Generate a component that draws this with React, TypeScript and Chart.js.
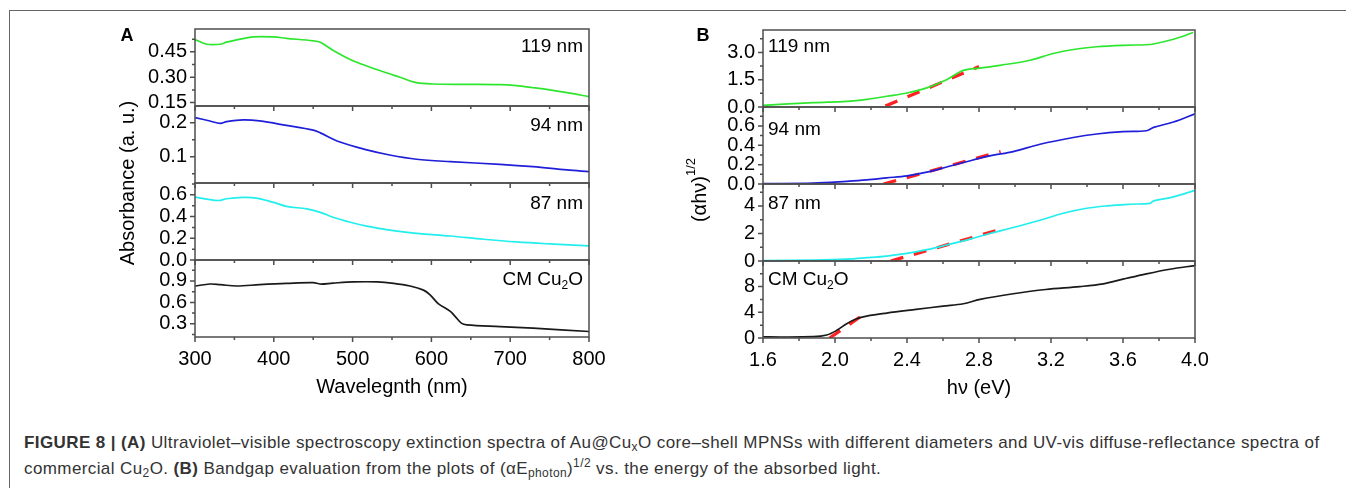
import React, { useEffect, useRef } from 'react';
import { Chart, registerables } from 'chart.js';

Chart.register(...registerables);

const FONT = '"Liberation Sans", Arial, Helvetica, sans-serif';

// ---------------- Panel A : absorbance vs wavelength ----------------
const A_X_TICKS = [300, 400, 500, 600, 700, 800];
const A_X_MINOR = [350, 450, 550, 650, 750];

const A119_X = [300, 315, 332, 340, 374, 400, 416, 450, 459, 475, 497, 518, 539, 560, 581, 602, 645, 687, 708, 729, 750, 772, 800];
const A119_Y = [0.523, 0.495, 0.495, 0.507, 0.538, 0.538, 0.53, 0.515, 0.507, 0.46, 0.405, 0.366, 0.332, 0.3, 0.268, 0.26, 0.258, 0.256, 0.25, 0.238, 0.225, 0.209, 0.185];

const A94_X = [300, 319, 332, 340, 361, 382, 416, 450, 459, 484, 518, 547, 581, 624, 687, 729, 772, 800];
const A94_Y = [0.215, 0.205, 0.198, 0.203, 0.208, 0.205, 0.192, 0.178, 0.17, 0.143, 0.12, 0.105, 0.0925, 0.0853, 0.0775, 0.0706, 0.061, 0.056];

const A87_X = [300, 315, 330, 340, 361, 378, 400, 416, 442, 459, 475, 497, 518, 547, 581, 624, 666, 708, 750, 800];
const A87_Y = [0.579, 0.561, 0.548, 0.564, 0.576, 0.57, 0.53, 0.494, 0.47, 0.439, 0.394, 0.348, 0.312, 0.275, 0.245, 0.221, 0.191, 0.166, 0.148, 0.13];

const ACM_X = [300, 319, 332, 353, 382, 416, 450, 459, 475, 501, 531, 552, 573, 590, 598, 609, 624, 630, 638, 645, 687, 729, 800];
const ACM_Y = [0.829, 0.857, 0.848, 0.829, 0.848, 0.866, 0.877, 0.857, 0.87, 0.886, 0.886, 0.866, 0.829, 0.772, 0.71, 0.58, 0.475, 0.405, 0.31, 0.286, 0.262, 0.24, 0.193];

const A_RANGES = [[0.13, 0.585], [0.0226, 0.249], [0, 0.709], [0.116, 1.193]];
const A_TICK_LABELS = [['0.15', '0.30', '0.45'], ['0.1', '0.2'], ['0.0', '0.2', '0.4', '0.6'], ['0.3', '0.6', '0.9']];
const A_MINOR = [[0.225, 0.375, 0.525], [0.05, 0.15], [0.1, 0.3, 0.5, 0.7], [0.15, 0.45, 0.75, 1.05]];

// ---------------- Panel B : (alpha h nu)^1/2 vs photon energy ----------------
const B_X_TICKS = [1.6, 2.0, 2.4, 2.8, 3.2, 3.6, 4.0];
const B_X_MINOR = [1.8, 2.2, 2.6, 3.0, 3.4, 3.8];

const B119_X = [1.6, 1.88, 2.065, 2.176, 2.287, 2.4, 2.51, 2.62, 2.713, 2.806, 2.917, 3.083, 3.213, 3.324, 3.454, 3.6, 3.73, 3.77, 3.88, 3.99];
const B119_Y = [0.09, 0.24, 0.31, 0.42, 0.59, 0.77, 1.05, 1.5, 2.01, 2.14, 2.29, 2.57, 2.94, 3.16, 3.31, 3.39, 3.42, 3.46, 3.72, 4.09];

const B94_X = [1.6, 1.88, 2.065, 2.176, 2.287, 2.4, 2.51, 2.62, 2.73, 2.86, 2.99, 3.139, 3.324, 3.454, 3.6, 3.73, 3.77, 3.88, 4.0];
const B94_Y = [0.004, 0.01, 0.028, 0.042, 0.063, 0.084, 0.122, 0.175, 0.23, 0.29, 0.335, 0.41, 0.48, 0.516, 0.54, 0.55, 0.585, 0.64, 0.725];

const B87_X = [1.6, 1.88, 2.065, 2.176, 2.287, 2.4, 2.51, 2.62, 2.75, 2.86, 2.99, 3.139, 3.268, 3.398, 3.509, 3.64, 3.75, 3.77, 3.88, 4.0];
const B87_Y = [0.02, 0.07, 0.14, 0.24, 0.36, 0.55, 0.82, 1.16, 1.59, 2.0, 2.43, 2.96, 3.47, 3.83, 4.0, 4.12, 4.19, 4.36, 4.65, 5.13];

const BCM_X = [1.6, 1.88, 1.954, 2.01, 2.065, 2.12, 2.176, 2.287, 2.45, 2.6, 2.713, 2.806, 2.99, 3.17, 3.36, 3.49, 3.6, 3.73, 3.86, 4.0];
const BCM_Y = [0.16, 0.2, 0.46, 1.19, 2.23, 3.0, 3.41, 3.88, 4.45, 4.96, 5.33, 6.0, 6.88, 7.55, 8.0, 8.43, 9.15, 9.98, 10.7, 11.27];

// linear bandgap fits (red dashed)
const FIT119_X = [2.28, 2.8];
const FIT119_Y = [0.05, 2.22];
const FIT94_X = [2.27, 2.92];
const FIT94_Y = [0.0, 0.335];
const FIT87_X = [2.31, 2.92];
const FIT87_Y = [0.0, 2.3];
const FITCM_X = [1.97, 2.185];
const FITCM_Y = [0.0, 4.15];

const B_RANGES = [[0, 4.23], [0, 0.795], [0, 5.59], [0, 11.98]];
const B_TICK_LABELS = [['0.0', '1.5', '3.0'], ['0.0', '0.2', '0.4', '0.6'], ['0', '2', '4'], ['0', '4', '8']];
const B_MINOR = [[0.75, 2.25, 3.75], [0.1, 0.3, 0.5, 0.7], [1, 3, 5], [2, 6, 10]];

const SERIES_NAMES = ['119 nm', '94 nm', '87 nm', 'CM Cu_2O'];
const COLORS = ['#2ee62e', '#1f1fd9', '#22eeee', '#1a1a1a'];
const FIT_COLOR = '#ff2020';
const FRAME = '#4d4d4d';

type Part = { t: string; s?: 'sub' | 'sup' };

function parseName(name: string): Part[] {
  const out: Part[] = [];
  let buf = '';
  for (let i = 0; i < name.length; i++) {
    if (name[i] === '_' && i + 1 < name.length) {
      if (buf) out.push({ t: buf });
      buf = '';
      out.push({ t: name[i + 1], s: 'sub' });
      i++;
    } else buf += name[i];
  }
  if (buf) out.push({ t: buf });
  return out;
}

function drawRich(ctx: CanvasRenderingContext2D, parts: Part[], x: number, y: number, align: 'left' | 'right' | 'center', size: number) {
  const small = Math.round(size * 0.65);
  const widths = parts.map((p) => {
    ctx.font = `${p.s ? small : size}px ${FONT}`;
    return ctx.measureText(p.t).width;
  });
  const total = widths.reduce((a, b) => a + b, 0);
  let cx = align === 'left' ? x : align === 'right' ? x - total : x - total / 2;
  ctx.textAlign = 'left';
  ctx.textBaseline = 'middle';
  parts.forEach((p, i) => {
    ctx.font = `${p.s ? small : size}px ${FONT}`;
    const dy = p.s === 'sub' ? size * 0.32 : p.s === 'sup' ? -size * 0.42 : 0;
    ctx.fillText(p.t, cx, y + dy);
    cx += widths[i];
  });
}

type Series = { x: number[]; y: number[]; range: number[]; labels: string[]; minor: number[]; name: string };
type PanelCfg = {
  xMin: number; xMax: number; xTicks: number[]; xMinor: number[]; xDecimals: number; xTitle: string;
  series: Series[]; fits: { x: number[]; y: number[]; axis: number }[];
  padding: { left: number; right: number; top: number; bottom: number };
  nameAlign: 'left' | 'right'; nameDy: number[]; letter: string; letterPos: number[];
  yTitle: Part[]; yTitlePos: number[];
};

function decorPlugin(cfg: PanelCfg) {
  return {
    id: 'decor' + cfg.letter,
    afterDatasetsDraw(chart: any) {
      const ctx: CanvasRenderingContext2D = chart.ctx;
      const ca = chart.chartArea;
      const xs = chart.scales.x;
      ctx.save();
      ctx.strokeStyle = FRAME;
      ctx.lineWidth = 1.5;
      cfg.series.forEach((s, i) => {
        const ys = chart.scales['y' + i];
        ctx.strokeRect(ca.left, ys.top, ca.right - ca.left, ys.bottom - ys.top);
        ctx.beginPath();
        cfg.xTicks.forEach((v) => {
          const px = xs.getPixelForValue(v);
          ctx.moveTo(px, ys.bottom);
          ctx.lineTo(px, ys.bottom + 5);
        });
        cfg.xMinor.forEach((v) => {
          const px = xs.getPixelForValue(v);
          ctx.moveTo(px, ys.bottom);
          ctx.lineTo(px, ys.bottom + 3);
        });
        s.labels.forEach((t) => {
          const py = ys.getPixelForValue(Number(t));
          ctx.moveTo(ca.left, py);
          ctx.lineTo(ca.left - 5, py);
        });
        s.minor.forEach((v) => {
          const py = ys.getPixelForValue(v);
          ctx.moveTo(ca.left, py);
          ctx.lineTo(ca.left - 3, py);
        });
        ctx.stroke();
      });
      ctx.fillStyle = '#000';
      cfg.series.forEach((s, i) => {
        const ys = chart.scales['y' + i];
        const nx = cfg.nameAlign === 'left' ? ca.left + 5 : ca.right - 6;
        drawRich(ctx, parseName(s.name), nx, ys.top + cfg.nameDy[i], cfg.nameAlign, 19);
      });
      ctx.font = `bold 18px ${FONT}`;
      ctx.textAlign = 'center';
      ctx.textBaseline = 'middle';
      ctx.fillText(cfg.letter, cfg.letterPos[0], cfg.letterPos[1]);
      ctx.translate(cfg.yTitlePos[0], cfg.yTitlePos[1]);
      ctx.rotate(-Math.PI / 2);
      drawRich(ctx, cfg.yTitle, 0, 0, 'center', 20);
      ctx.restore();
    },
  };
}

function buildPanel(canvas: HTMLCanvasElement, cfg: PanelCfg) {
  const datasets: any[] = [];
  cfg.series.forEach((s, i) => {
    datasets.push({
      data: s.x.map((x, k) => ({ x, y: s.y[k] })),
      yAxisID: 'y' + i,
      borderColor: COLORS[i],
      borderWidth: 1.7,
      pointRadius: 0,
      tension: 0.35,
      fill: false,
    });
  });
  cfg.fits.forEach((f) => {
    datasets.push({
      data: f.x.map((x, k) => ({ x, y: f.y[k] })),
      yAxisID: 'y' + f.axis,
      borderColor: FIT_COLOR,
      borderWidth: 3.2,
      borderDash: [13, 11],
      pointRadius: 0,
      fill: false,
    });
  });
  const scales: any = {
    x: {
      type: 'linear',
      min: cfg.xMin,
      max: cfg.xMax,
      afterBuildTicks: (s: any) => { s.ticks = cfg.xTicks.map((v) => ({ value: v })); },
      afterFit: (s: any) => { s.height = 62; },
      ticks: {
        autoSkip: false, maxRotation: 0, padding: 10, color: '#000',
        font: { family: FONT, size: 20 },
        callback: (v: any) => Number(v).toFixed(cfg.xDecimals),
      },
      grid: { display: false, drawTicks: false },
      border: { display: false },
      title: { display: true, text: cfg.xTitle, color: '#000', font: { family: FONT, size: 20 }, padding: 0 },
    },
  };
  cfg.series.forEach((s, i) => {
    scales['y' + i] = {
      type: 'linear',
      position: 'left',
      stack: 'panel',
      stackWeight: 1,
      weight: cfg.series.length - i,
      min: s.range[0],
      max: s.range[1],
      afterBuildTicks: (sc: any) => { sc.ticks = s.labels.map((t) => ({ value: Number(t) })); },
      afterFit: (sc: any) => { sc.width = 60; },
      ticks: {
        autoSkip: false, padding: 8, color: '#000',
        font: { family: FONT, size: 20 },
        callback: (_v: any, idx: number) => s.labels[idx],
      },
      grid: { display: false, drawTicks: false },
      border: { display: false },
    };
  });
  return new Chart(canvas, {
    type: 'line',
    data: { datasets },
    options: {
      responsive: false,
      animation: false,
      events: [],
      layout: { padding: cfg.padding },
      plugins: { legend: { display: false }, tooltip: { enabled: false } },
      scales,
    },
    plugins: [decorPlugin(cfg)],
  } as any);
}

const PANEL_A: PanelCfg = {
  xMin: 300, xMax: 800, xTicks: A_X_TICKS, xMinor: A_X_MINOR, xDecimals: 0, xTitle: 'Wavelegnth (nm)',
  series: [
    { x: A119_X, y: A119_Y, range: A_RANGES[0], labels: A_TICK_LABELS[0], minor: A_MINOR[0], name: SERIES_NAMES[0] },
    { x: A94_X, y: A94_Y, range: A_RANGES[1], labels: A_TICK_LABELS[1], minor: A_MINOR[1], name: SERIES_NAMES[1] },
    { x: A87_X, y: A87_Y, range: A_RANGES[2], labels: A_TICK_LABELS[2], minor: A_MINOR[2], name: SERIES_NAMES[2] },
    { x: ACM_X, y: ACM_Y, range: A_RANGES[3], labels: A_TICK_LABELS[3], minor: A_MINOR[3], name: SERIES_NAMES[3] },
  ],
  fits: [],
  padding: { left: 135, right: 81, top: 29, bottom: 11 },
  nameAlign: 'right', nameDy: [18, 20, 21, 20], letter: 'A', letterPos: [127, 36],
  yTitle: [{ t: 'Absorbance (a. u.)' }], yTitlePos: [128, 183],
};

const PANEL_B: PanelCfg = {
  xMin: 1.6, xMax: 4.0, xTicks: B_X_TICKS, xMinor: B_X_MINOR, xDecimals: 1, xTitle: 'hν (eV)',
  series: [
    { x: B119_X, y: B119_Y, range: B_RANGES[0], labels: B_TICK_LABELS[0], minor: B_MINOR[0], name: SERIES_NAMES[0] },
    { x: B94_X, y: B94_Y, range: B_RANGES[1], labels: B_TICK_LABELS[1], minor: B_MINOR[1], name: SERIES_NAMES[1] },
    { x: B87_X, y: B87_Y, range: B_RANGES[2], labels: B_TICK_LABELS[2], minor: B_MINOR[2], name: SERIES_NAMES[2] },
    { x: BCM_X, y: BCM_Y, range: B_RANGES[3], labels: B_TICK_LABELS[3], minor: B_MINOR[3], name: SERIES_NAMES[3] },
  ],
  fits: [
    { x: FIT119_X, y: FIT119_Y, axis: 0 },
    { x: FIT94_X, y: FIT94_Y, axis: 1 },
    { x: FIT87_X, y: FIT87_Y, axis: 2 },
    { x: FITCM_X, y: FITCM_Y, axis: 3 },
  ],
  padding: { left: 33, right: 151, top: 30, bottom: 10 },
  nameAlign: 'left', nameDy: [17, 23, 20, 19], letter: 'B', letterPos: [33, 36],
  yTitle: [{ t: '(αhν)' }, { t: '1/2', s: 'sup' }], yTitlePos: [30, 190],
};

const subStyle: React.CSSProperties = { fontSize: 12, verticalAlign: '-3px', lineHeight: 0 };
const supStyle: React.CSSProperties = { fontSize: 12, verticalAlign: '7px', lineHeight: 0 };

export default function App() {
  const refA = useRef<HTMLCanvasElement>(null);
  const refB = useRef<HTMLCanvasElement>(null);
  useEffect(() => {
    const a = buildPanel(refA.current as HTMLCanvasElement, PANEL_A);
    const b = buildPanel(refB.current as HTMLCanvasElement, PANEL_B);
    return () => { a.destroy(); b.destroy(); };
  }, []);
  return (
    <div style={{ position: 'absolute', left: 0, top: 0, width: 1346, height: 488, background: '#fff', overflow: 'hidden' }}>
      <div style={{ position: 'absolute', left: 9, top: 10, width: 1337, height: 478, borderTop: '1px solid #666', borderLeft: '1px solid #666', boxSizing: 'border-box' }} />
      <canvas ref={refA} width={670} height={410} style={{ position: 'absolute', left: 0, top: 0 }} />
      <canvas ref={refB} width={676} height={410} style={{ position: 'absolute', left: 670, top: 0 }} />
      <div style={{ position: 'absolute', left: 24, top: 430, fontFamily: FONT, fontSize: 17, letterSpacing: '0.4px', color: '#333', lineHeight: '26px', whiteSpace: 'nowrap' }}>
        <b>FIGURE 8 | (A)</b> Ultraviolet–visible spectroscopy extinction spectra of Au@Cu<sub style={subStyle}>x</sub>O core–shell MPNSs with different diameters and UV-vis diffuse-reflectance spectra of
        <br />
        commercial Cu<sub style={subStyle}>2</sub>O. <b>(B)</b> Bandgap evaluation from the plots of (αE<sub style={subStyle}>photon</sub>)<sup style={supStyle}>1/2</sup> vs. the energy of the absorbed light.
      </div>
    </div>
  );
}
